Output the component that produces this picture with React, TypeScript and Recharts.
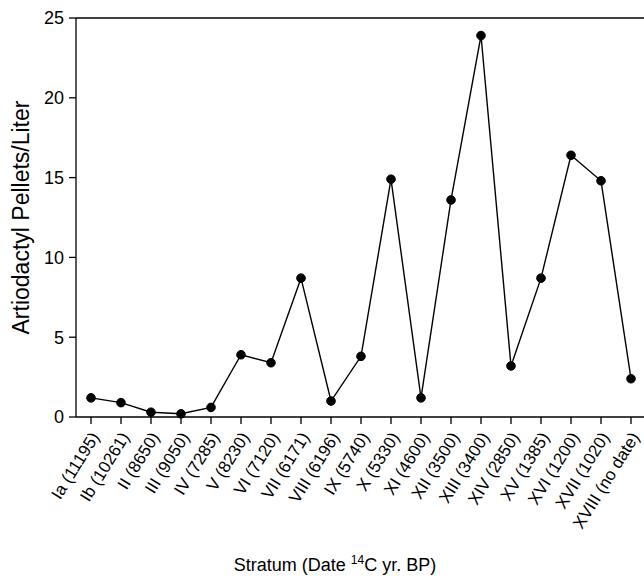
import React from "react";
import {
  LineChart,
  Line,
  XAxis,
  YAxis,
  ReferenceLine,
} from "recharts";

const strata = [
  "Ia (11195)",
  "Ib (10261)",
  "II (8650)",
  "III (9050)",
  "IV (7285)",
  "V (8230)",
  "VI (7120)",
  "VII (6171)",
  "VIII (6196)",
  "IX (5740)",
  "X (5330)",
  "XI (4600)",
  "XII (3500)",
  "XIII (3400)",
  "XIV (2850)",
  "XV (1385)",
  "XVI (1200)",
  "XVII (1020)",
  "XVIII (no date)",
];

const pelletsPerLiter = [
  1.2, 0.9, 0.3, 0.2, 0.6, 3.9, 3.4, 8.7, 1.0, 3.8, 14.9, 1.2, 13.6, 23.9, 3.2,
  8.7, 16.4, 14.8, 2.4,
];

const yTicks = [0, 5, 10, 15, 20, 25];

const data = strata.map((s, i) => ({ stratum: s, value: pelletsPerLiter[i] }));

const FONT = "'Liberation Sans', Arial, Helvetica, sans-serif";

const XTick = (props: any) => {
  const { x, y, payload } = props;
  return (
    <g transform={`translate(${x + 9},${y + 11})`}>
      <text
        x={0}
        y={0}
        textAnchor="end"
        transform="rotate(-58)"
        fontFamily={FONT}
        fontSize={17}
        fill="#000"
      >
        {payload.value}
      </text>
    </g>
  );
};

const XLabel = (props: any) => {
  const { viewBox } = props;
  const y = viewBox.y + 154;
  return (
    <text
      x={335}
      y={y}
      textAnchor="middle"
      fontFamily={FONT}
      fontSize={18}
      fill="#000"
    >
      <tspan>Stratum (Date </tspan>
      <tspan dy={-7} fontSize={12}>
        14
      </tspan>
      <tspan dy={7}>C yr. BP)</tspan>
    </text>
  );
};

const YLabel = (props: any) => {
  const { viewBox } = props;
  const cy = viewBox.y + viewBox.height / 2;
  const cx = 29;
  return (
    <text
      x={cx}
      y={cy}
      textAnchor="middle"
      transform={`rotate(-90, ${cx}, ${cy})`}
      fontFamily={FONT}
      fontSize={23}
      fill="#000"
    >
      Artiodactyl Pellets/Liter
    </text>
  );
};

export default function App() {
  return (
    <div
      style={{
        position: "absolute",
        left: 0,
        top: 0,
        width: 644,
        height: 578,
        overflow: "hidden",
        background: "#fff",
      }}
    >
      <LineChart
        width={650}
        height={578}
        data={data}
        margin={{ top: 18, right: 4, bottom: 0, left: 0 }}
      >
        <XAxis
          dataKey="stratum"
          interval={0}
          padding={{ left: 15, right: 15 }}
          tick={<XTick />}
          tickSize={7}
          tickLine={{ stroke: "#000", strokeWidth: 1.3 }}
          axisLine={{ stroke: "#000", strokeWidth: 1.3 }}
          height={161}
          label={<XLabel />}
        />
        <YAxis
          domain={[0, 25]}
          ticks={yTicks}
          width={76}
          tickSize={7}
          tickMargin={5}
          tickLine={{ stroke: "#000", strokeWidth: 1.3 }}
          axisLine={{ stroke: "#000", strokeWidth: 1.3 }}
          tick={{ fill: "#000", fontSize: 18, fontFamily: FONT }}
          label={<YLabel />}
        />
        <ReferenceLine y={25} stroke="#000" strokeWidth={1.3} />
        <Line
          type="linear"
          dataKey="value"
          stroke="#000"
          strokeWidth={1.4}
          dot={{ r: 4.3, fill: "#000", stroke: "#000", strokeWidth: 1 }}
          isAnimationActive={false}
        />
      </LineChart>
    </div>
  );
}
